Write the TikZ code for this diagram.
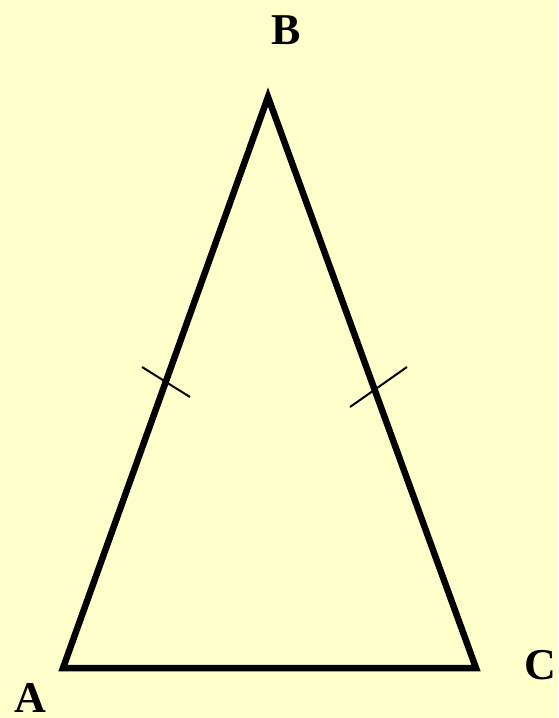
\documentclass[tikz,border=0pt]{standalone}
\usepackage{fontspec}
\setmainfont{Liberation Serif}
\definecolor{paleyellow}{RGB}{255, 255, 204}

\begin{document}
\begin{tikzpicture}[x=1pt, y=-1pt,
    side/.style={black, line width=6.5pt, line join=miter},
    tick/.style={black, line width=2pt},
    vlabel/.style={font=\fontsize{44}{48}\selectfont\bfseries, inner sep=0pt}]
    \fill[paleyellow] (0,0) rectangle (558,718);
    \useasboundingbox (0,0) rectangle (558,718);

    %% vertices
    \coordinate (A) at (63,668);
    \coordinate (B) at (268,97);
    \coordinate (C) at (476,668);
    \draw[side] (A) -- (B) -- (C) -- cycle;

    %% equal-side marks
    \coordinate (t1a) at (142,367);
    \coordinate (t1b) at (190,397);
    \coordinate (t2a) at (350,407);
    \coordinate (t2b) at (407,367);
    \draw[tick] (t1a) -- (t1b);
    \draw[tick] (t2a) -- (t2b);

    %% labels
    \node[vlabel] (labB) at (286,30) {B};
    \node[vlabel] (labA) at (30,698) {A};
    \node[vlabel] (labC) at (540,665) {C};
  \end{tikzpicture}
\end{document}
